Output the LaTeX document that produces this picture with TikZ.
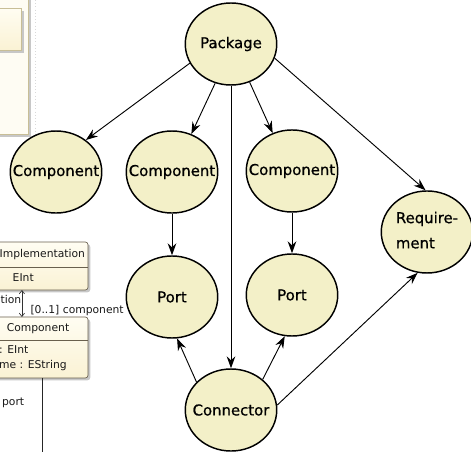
\documentclass[tikz,border=0pt]{standalone}
\usepackage{fontspec}
\setmainfont{DejaVu Sans}
\newfontfamily\nodefont[FakeBold=0.7]{DejaVu Sans}
\usepackage{xcolor}
\definecolor{node-fill}{RGB}{243,240,200}
\definecolor{class-top}{RGB}{255,253,242}
\definecolor{class-bottom}{RGB}{250,242,212}
\definecolor{class-line}{RGB}{105,96,78}
\definecolor{pkg-line}{RGB}{200,190,150}
\definecolor{pkg-fill}{RGB}{254,252,243}
\definecolor{shadow-gray}{gray}{0.78}
\usetikzlibrary{shapes.geometric,arrows.meta}
% text wider than the ellipse is allowed to run over its border
\newcommand{\ntext}[1]{\makebox[0pt]{#1}}

\begin{document}
\begin{tikzpicture}[auto,>={Stealth[length=9pt,width=6.5pt,inset=3pt]}]
%\draw [help lines] (0,0) grid (12,12);
\tikzset{
	ellA/.style={
		ellipse,
		inner sep=0pt,
		draw=black,
		line width=1.1pt,
		fill=node-fill,
		minimum width=24.2mm,
		minimum height=21.7mm,
		font=\nodefont\fontsize{11.2}{14}\selectfont
	},
	classA/.style={
		draw=class-line,
		line width=0.5pt,
		rounded corners=2pt,
		top color=class-top,
		bottom color=class-bottom
	},
	shadowA/.style={
		fill=shadow-gray,
		rounded corners=2pt
	},
	small/.style={
		inner sep=0pt,
		text=black!90,
		font=\fontsize{8.1}{10}\selectfont
	},
	edge/.style={
		line width=0.7pt
	},
}
\clip (0,0) rectangle (12.462,11.959);

% editor behind: package frame
\fill [shadow-gray] (-0.2,8.334) rectangle (0.821,12.2);
\draw [pkg-line, fill=pkg-fill, line width=0.6pt] (-0.3,8.414) rectangle (0.741,12.2);
\fill [shadow-gray] (-0.2,10.566) rectangle (0.626,11.677);
\draw [pkg-line, line width=0.6pt, top color=class-top, bottom color=class-bottom] (-0.3,10.636) rectangle (0.556,11.747);
\draw [gray!30, dotted] (0.926,11.959) -- (0.926,8.255);

% editor behind: classes
\fill [shadowA] (-0.35,4.226) rectangle (2.388,5.496);
\draw [classA] (-0.4,4.286) rectangle (2.328,5.556);
\draw [class-line, line width=0.5pt] (-0.4,4.895) -- (2.328,4.895);
\fill [shadowA] (-0.35,1.898) rectangle (2.388,3.512);
\draw [classA] (-0.4,1.958) rectangle (2.328,3.572);
\draw [class-line, line width=0.5pt] (-0.4,2.963) -- (2.328,2.963);

\node (n1) [small] at (1.12,5.212) {Implementation};
\node (n2) [small, anchor=west] at (0.33,4.603) {EInt};
\node (n3) [small] at (1.005,3.254) {Component};
\node (n4) [small, anchor=west] at (-0.03,2.699) {: EInt};
\node (n5) [small, anchor=west] at (-0.03,2.275) {me : EString};
\node (n6) [small, anchor=west] at (0.01,4.022) {tion};
\node (n7) [small, anchor=west] at (0.8,3.731) {[0..1] component};
\node (n8) [small, anchor=west] at (0.05,1.296) {port};

\coordinate (u1) at (0.58,4.286);
\coordinate (u2) at (0.58,3.572);
\coordinate (v1) at (1.111,1.958);
\coordinate (v2) at (1.111,-0.1);
\draw [black!80, line width=0.5pt, {Straight Barb[length=2.5pt,width=4pt]}-{Straight Barb[length=2.5pt,width=4pt]}] (u1) -- (u2);
\draw [black!85, line width=0.6pt] (v1) -- (v2);

% the graph
\node (pk) [ellA] at (6.112,10.795) {\ntext{Package}};
\node (c1) [ellA] at (1.482,7.408) {\ntext{Component}};
\node (c2) [ellA] at (4.551,7.408) {\ntext{Component}};
\node (c3) [ellA] at (7.726,7.435) {\ntext{Component}};
\node (rq) [ellA] at (11.298,5.821) {\ntext{\raisebox{-8pt}{\begin{tabular}{@{}l@{}}Require-\\[5pt]ment\end{tabular}}}};
\node (p1) [ellA] at (4.551,4.101) {\ntext{Port}};
\node (p2) [ellA] at (7.726,4.154) {\ntext{Port}};
\node (cn) [ellA] at (6.112,1.111) {\ntext{Connector}};

\draw [edge, ->] (pk.205) -- (c1.47);
\draw [edge, ->] (pk.-112) -- (c2.63);
\draw [edge, ->] (pk.-64) -- (c3.117);
\draw [edge, ->] (pk.-18) -- (rq.92);
\draw [edge, ->] (pk) -- (cn);
\draw [edge, ->] (c2) -- (p1);
\draw [edge, ->] (c3) -- (p2);
\draw [edge, ->] (cn.141) -- (p1.-83);
\draw [edge, ->] (cn.44) -- (p2.-100);
\draw [edge, ->] (cn.6) -- (rq.-103);
\end{tikzpicture}
\end{document}
